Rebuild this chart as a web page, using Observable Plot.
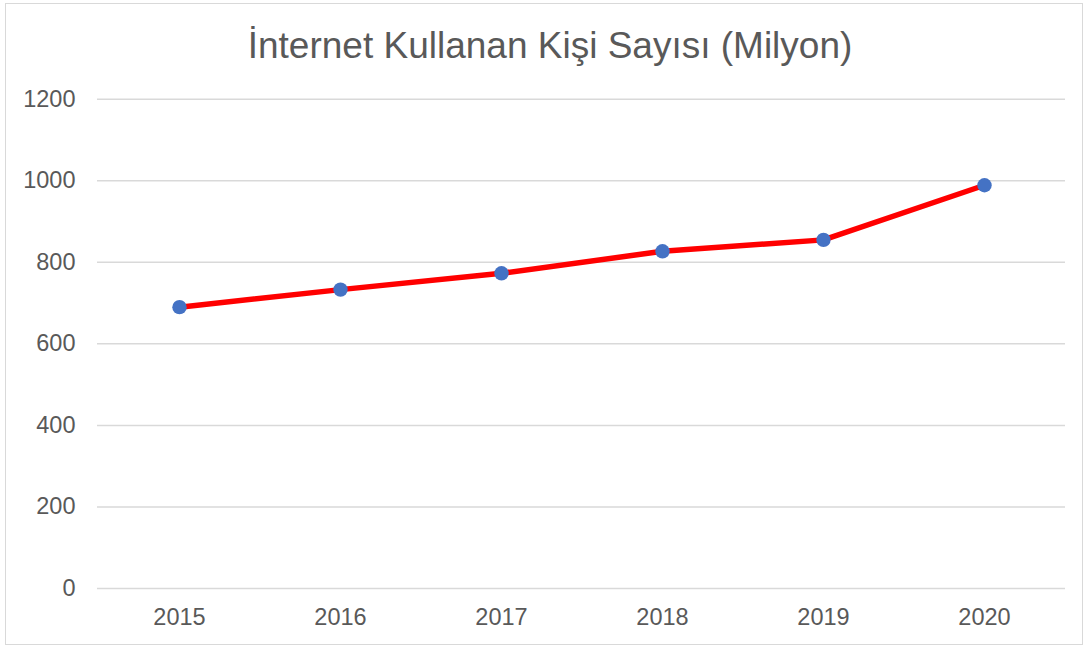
<!DOCTYPE html>
<html>
<head>
<meta charset="utf-8">
<script src="https://cdn.jsdelivr.net/npm/d3@7"></script>
<script src="https://cdn.jsdelivr.net/npm/@observablehq/plot@0.6"></script>
<style>
  html, body { margin: 0; padding: 0; background: #fff; }
  #frame { position: absolute; left: 5px; top: 3px; width: 1078px; height: 642px; border: 1.5px solid #d9d9d9; box-sizing: border-box; }
  #title { position: absolute; left: 0; width: 1100px; top: 26.7px; line-height: 37px; text-align: center; font-family: "Liberation Sans", Arial, sans-serif; font-size: 37px; color: #595959; white-space: nowrap; }
  #chart { position: absolute; left: 0; top: 0; }
</style>
</head>
<body>
<div id="frame"></div>
<div id="title">İnternet Kullanan Kişi Sayısı (Milyon)</div>
<div id="chart"></div>
<script>
const years = ["2015", "2016", "2017", "2018", "2019", "2020"];
const users = [690, 733, 773, 827, 855, 989];
const yTicks = [0, 200, 400, 600, 800, 1000, 1200];

const data = years.map((y, i) => ({year: y, value: users[i]}));

const chart = Plot.plot({
  width: 1088,
  height: 649,
  marginTop: 98.7,
  marginBottom: 61,
  marginLeft: 97,
  marginRight: 23,
  style: {fontFamily: "'Liberation Sans', Arial, sans-serif", fontSize: "23.5px", color: "#595959", background: "transparent"},
  x: {type: "point", domain: years, padding: 0.5, label: null},
  y: {domain: [0, 1200], label: null},
  marks: [
    Plot.ruleY(yTicks, {stroke: "#d9d9d9", strokeWidth: 1.5}),
    Plot.axisY(yTicks, {tickSize: 0, tickPadding: 22, tickFormat: d3.format("d"), fill: "#595959", fontSize: 23.5, label: null}),
    Plot.axisX(years, {tickSize: 0, tickPadding: 20, fill: "#595959", fontSize: 23.5, label: null}),
    Plot.line(data, {x: "year", y: "value", stroke: "#ff0000", strokeWidth: 5.5}),
    Plot.dot(data, {x: "year", y: "value", r: 7.2, fill: "#4472c4", stroke: "none"})
  ]
});
document.getElementById("chart").appendChild(chart);
</script>
</body>
</html>
